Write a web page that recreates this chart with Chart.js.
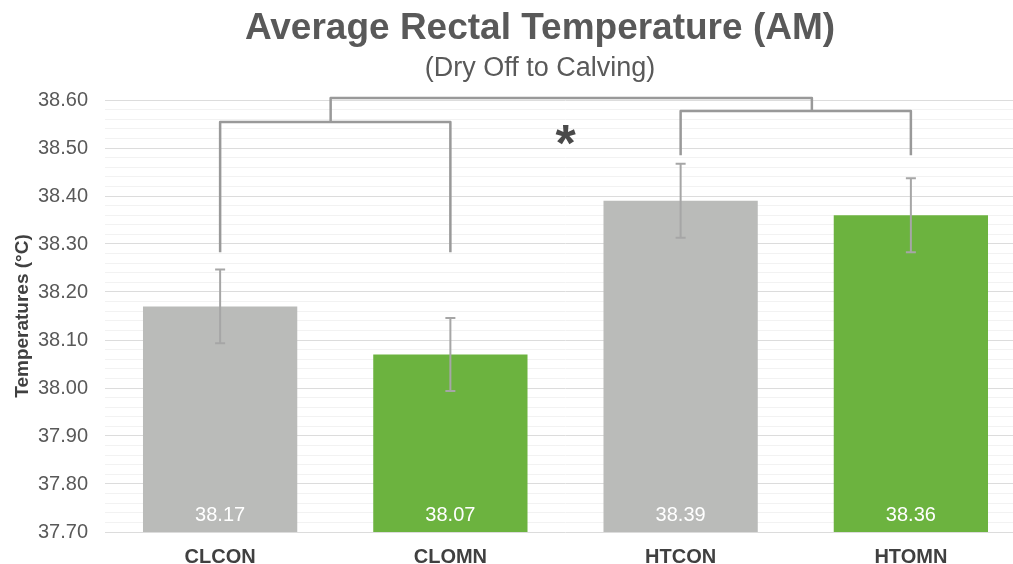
<!DOCTYPE html>
<html lang="en">
<head>
    <meta charset="UTF-8">
    <title>Average Rectal Temperature (AM)</title>
    <style>
        html, body { margin: 0; padding: 0; background: #fff; overflow: hidden; }
        #wrap { width: 1013px; height: 564px; overflow: hidden; }
        #wrap div { width: 1080px; height: 564px; position: relative; }
    </style>
</head>
<body>

<div id="wrap"><div><canvas id="tempChart"></canvas></div></div>

<script src="https://cdn.jsdelivr.net/npm/chart.js"></script>
<script>
    // data
    var groups = ['CLCON', 'CLOMN', 'HTCON', 'HTOMN'];
    var temps = [38.17, 38.07, 38.39, 38.36];
    var stdErr = [0.077, 0.076, 0.077, 0.077];
    var barColors = ['#BABBB9', '#6CB33F', '#BABBB9', '#6CB33F'];

    // significance brackets (category index, temperature value)
    var bracketFrom = [0, 2, 0.48];
    var bracketTo = [1, 3, 2.57];
    var bracketLeftEnd = [38.283, 38.485, 38.554];
    var bracketRightEnd = [38.283, 38.485, 38.577];
    var bracketTop = [38.554, 38.577, 38.604];
    var starAt = [1.5, 38.522];

    var textGrey = '#595959';
    var fontName = '"Liberation Sans", Arial, sans-serif';

    // error bars, value labels, brackets, asterisk
    var extras = {
        id: 'extras',
        afterDraw: function(chart) {
            var ctx = chart.ctx;
            var x = chart.scales.x, y = chart.scales.y;
            var meta = chart.getDatasetMeta(0);
            ctx.save();

            // error bars
            ctx.strokeStyle = '#A6A6A6';
            ctx.lineWidth = 2;
            meta.data.forEach(function(bar, i) {
                var hi = y.getPixelForValue(temps[i] + stdErr[i]);
                var lo = y.getPixelForValue(temps[i] - stdErr[i]);
                ctx.beginPath();
                ctx.moveTo(bar.x, hi); ctx.lineTo(bar.x, lo);
                ctx.moveTo(bar.x - 5, hi); ctx.lineTo(bar.x + 5, hi);
                ctx.moveTo(bar.x - 5, lo); ctx.lineTo(bar.x + 5, lo);
                ctx.stroke();
            });

            // value labels inside bars
            ctx.fillStyle = '#ffffff';
            ctx.font = '20px ' + fontName;
            ctx.textAlign = 'center';
            ctx.textBaseline = 'middle';
            meta.data.forEach(function(bar, i) {
                ctx.fillText(temps[i].toFixed(2), bar.x, y.bottom - 17);
            });

            // brackets
            ctx.strokeStyle = '#999999';
            ctx.lineWidth = 2.5;
            ctx.lineJoin = 'round';
            for (var b = 0; b < bracketFrom.length; b++) {
                var x1 = x.getPixelForValue(bracketFrom[b]);
                var x2 = x.getPixelForValue(bracketTo[b]);
                var yt = y.getPixelForValue(bracketTop[b]);
                ctx.beginPath();
                ctx.moveTo(x1, y.getPixelForValue(bracketLeftEnd[b]));
                ctx.lineTo(x1, yt);
                ctx.lineTo(x2, yt);
                ctx.lineTo(x2, y.getPixelForValue(bracketRightEnd[b]));
                ctx.stroke();
            }

            // asterisk
            ctx.fillStyle = '#4A4A4A';
            ctx.font = 'bold 52px ' + fontName;
            ctx.fillText('*', x.getPixelForValue(starAt[0]), y.getPixelForValue(starAt[1]) + 9);
            ctx.restore();
        }
    };

    var ctx = document.getElementById('tempChart').getContext('2d');
    var tempChart = new Chart(ctx, {
        type: 'bar',
        data: {
            labels: groups,
            datasets: [{
                data: temps,
                backgroundColor: barColors,
                borderWidth: 0,
                categoryPercentage: 1,
                barPercentage: 0.67
            }]
        },
        options: {
            responsive: true,
            maintainAspectRatio: false,
            animation: false,
            plugins: {
                legend: { display: false },
                tooltip: { enabled: false },
                title: {
                    display: true,
                    text: 'Average Rectal Temperature (AM)',
                    color: textGrey,
                    font: { family: fontName, size: 37, weight: 'bold' },
                    padding: { top: 7, bottom: 0 }
                },
                subtitle: {
                    display: true,
                    text: '(Dry Off to Calving)',
                    color: textGrey,
                    font: { family: fontName, size: 27 },
                    padding: { top: 1, bottom: 15.2 }
                }
            },
            scales: {
                x: {
                    grid: { display: false, drawTicks: false },
                    border: { display: false },
                    ticks: {
                        color: '#404040',
                        padding: 13,
                        font: { family: fontName, size: 20, weight: 'bold' }
                    },
                    afterFit: function(scale) { scale.height = 32; }
                },
                y: {
                    min: 37.7,
                    max: 38.6,
                    border: { display: false },
                    grid: {
                        drawTicks: false,
                        color: function(c) {
                            var v = Math.round(c.tick.value * 100);
                            return v % 10 === 0 ? '#DCDCDC' : '#F2F2F2';
                        }
                    },
                    ticks: {
                        stepSize: 0.02,
                        autoSkip: false,
                        padding: 17,
                        color: textGrey,
                        font: { family: fontName, size: 20 },
                        callback: function(value) {
                            var v = Math.round(value * 100);
                            return v % 10 === 0 ? (v / 100).toFixed(2) : '';
                        }
                    },
                    title: {
                        display: true,
                        text: 'Temperatures (°C)',
                        color: '#404040',
                        font: { family: fontName, size: 19, weight: 'bold' },
                        padding: { top: 11, bottom: 0 }
                    },
                    afterFit: function(scale) { scale.width = 105; }
                },
                // empty right-hand strip so the plot ends where the original does
                yRight: {
                    position: 'right',
                    grid: { display: false, drawTicks: false },
                    border: { display: false },
                    ticks: { display: false },
                    afterFit: function(scale) { scale.width = 54; }
                }
            }
        },
        plugins: [extras]
    });
</script>

</body>
</html>
